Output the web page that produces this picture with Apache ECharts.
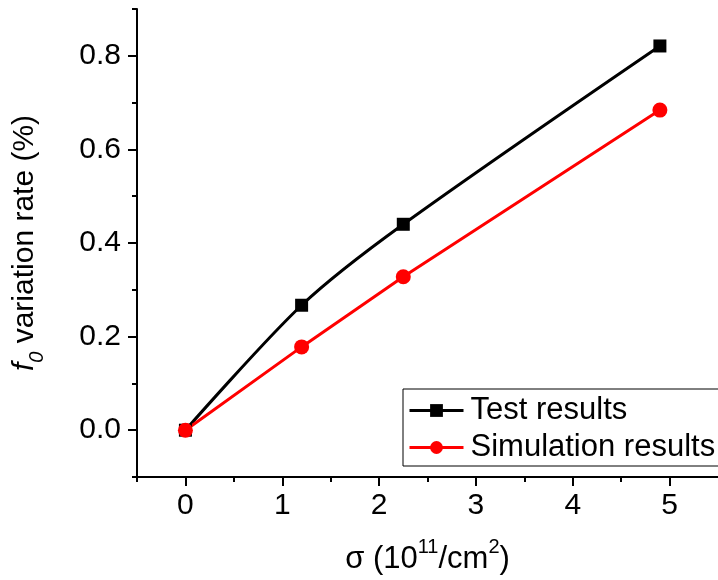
<!DOCTYPE html>
<html><head><meta charset="utf-8">
<script src="https://cdn.jsdelivr.net/npm/echarts@6/dist/echarts.min.js"></script>
<style>html,body{margin:0;padding:0;background:#fff}#c{width:718px;height:580px}</style>
</head><body><div id="c"></div>
<script>
const sigma = [0, 1.2, 2.25, 4.9];
const testResults = [0, 0.267, 0.44, 0.821];
const simResults = [0, 0.178, 0.328, 0.684];
const xMajorTicks = [0, 1, 2, 3, 4, 5];
const xMinorTicks = [-0.5, 0.5, 1.5, 2.5, 3.5, 4.5];
const yMajorTicks = [0, 0.2, 0.4, 0.6, 0.8];
const yMinorTicks = [-0.1, 0.1, 0.3, 0.5, 0.7, 0.9];
const seriesNames = ['Test results', 'Simulation results'];

const FONT = 'Liberation Sans, Arial, sans-serif';
const chart = echarts.init(document.getElementById('c'), null, {renderer: 'canvas'});
const pair = (xs, ys) => xs.map((x, i) => [x, ys[i]]);
const axisBase = {
  type: 'value', splitLine: {show: false},
  axisLine: {show: true, onZero: false, lineStyle: {color: '#000', width: 2}}
};
chart.setOption({
  animation: false,
  grid: {left: 137, right: -3, top: 9, bottom: 103, containLabel: false},
  xAxis: [
    Object.assign({}, axisBase, {
      min: -0.5, max: 5.5, position: 'bottom',
      name: '{n|σ (10}{s|11}{n|/cm}{s|2}{n|)}', nameLocation: 'middle', nameGap: 60,
      nameTextStyle: {rich: {
        n: {fontSize: 31, fontFamily: FONT, color: '#000', lineHeight: 38, verticalAlign: 'bottom'},
        s: {fontSize: 20, fontFamily: FONT, color: '#000', lineHeight: 38, verticalAlign: 'top'}
      }},
      axisTick: {show: true, customValues: xMajorTicks, length: 9, lineStyle: {color: '#000', width: 2}},
      axisLabel: {customValues: xMajorTicks, fontSize: 30, fontFamily: FONT, color: '#000', margin: 14}
    }),
    Object.assign({}, axisBase, {
      min: -0.5, max: 5.5, position: 'bottom', axisLine: {show: false, onZero: false},
      axisTick: {show: true, customValues: xMinorTicks, length: 5, lineStyle: {color: '#000', width: 2}},
      axisLabel: {show: false}
    })
  ],
  yAxis: [
    Object.assign({}, axisBase, {
      min: -0.1, max: 0.9, position: 'left',
      name: '{i|f}{sub|0}{n| variation rate (%)}', nameLocation: 'middle', nameGap: 97, nameRotate: 90,
      nameTextStyle: {rich: {
        i: {fontSize: 30, fontFamily: FONT, fontStyle: 'italic', color: '#000', lineHeight: 36, verticalAlign: 'bottom'},
        sub: {fontSize: 20, fontFamily: FONT, fontStyle: 'italic', color: '#000', lineHeight: 36, verticalAlign: 'bottom', padding: [0, 0, -7, 0]},
        n: {fontSize: 30, fontFamily: FONT, color: '#000', lineHeight: 36, verticalAlign: 'bottom'}
      }},
      axisTick: {show: true, customValues: yMajorTicks, length: 9, lineStyle: {color: '#000', width: 2}},
      axisLabel: {customValues: yMajorTicks, fontSize: 30, fontFamily: FONT, color: '#000', margin: 16,
        formatter: v => v.toFixed(1)}
    }),
    Object.assign({}, axisBase, {
      min: -0.1, max: 0.9, position: 'left', axisLine: {show: false, onZero: false},
      axisTick: {show: true, customValues: yMinorTicks, length: 5, lineStyle: {color: '#000', width: 2}},
      axisLabel: {show: false}
    })
  ],
  legend: {
    orient: 'vertical', left: 403, top: 389, padding: [6, 40, 3, 5],
    borderColor: '#000', borderWidth: 1, itemGap: 6, itemWidth: 54, itemHeight: 16,
    lineStyle: {width: 3},
    textStyle: {fontSize: 31, fontFamily: FONT, color: '#000', padding: [0, 0, 0, 2]},
    data: seriesNames
  },
  series: [
    {name: seriesNames[0], type: 'line', data: pair(sigma, testResults), smooth: 0.3,
     symbol: 'rect', symbolSize: 13, itemStyle: {color: '#000'}, lineStyle: {color: '#000', width: 3}},
    {name: seriesNames[1], type: 'line', data: pair(sigma, simResults),
     symbol: 'circle', symbolSize: 15, itemStyle: {color: '#ff0000'}, lineStyle: {color: '#ff0000', width: 3}}
  ]
});
</script></body></html>
